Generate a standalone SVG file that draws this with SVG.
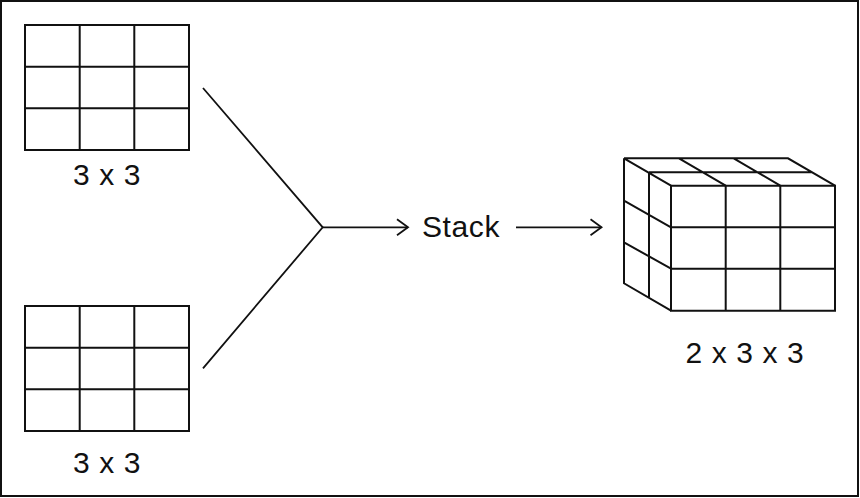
<svg xmlns="http://www.w3.org/2000/svg" width="860" height="498" viewBox="0 0 860 498">
<style>
.g{fill:none;stroke:#111;stroke-width:2;stroke-linejoin:miter}
.c{fill:none;stroke:#111;stroke-width:1.8}
.t{font-family:"Liberation Sans",Arial,sans-serif;font-size:30px;fill:#111;letter-spacing:0.6px}
</style>
<defs>
<marker id="ah" markerWidth="14" markerHeight="20" refX="12" refY="10" orient="auto" markerUnits="userSpaceOnUse">
<path d="M1,2 L12,10 L1,18" fill="none" stroke="#111" stroke-width="1.8"/>
</marker>
</defs>
<rect x="1" y="1" width="857" height="495" fill="#fff" stroke="#111" stroke-width="2"/>
<g id="matrix-top">
<rect class="g" x="25" y="25" width="164" height="125"/>
<path class="g" d="M79.7,25V150M134.3,25V150M25,66.7H189M25,108.3H189"/>
<text class="t" x="107" y="185" text-anchor="middle">3 x 3</text>
</g>
<g id="matrix-bottom">
<rect class="g" x="25" y="306" width="164" height="125"/>
<path class="g" d="M79.7,306V431M134.3,306V431M25,347.7H189M25,389.3H189"/>
<text class="t" x="107" y="473" text-anchor="middle">3 x 3</text>
</g>
<g id="stack-label">
<text class="t" x="422" y="237">Stack</text>
</g>
<g id="tensor">
<path class="g" d="M671,185.7H835V310.7H671Z M725.7,185.7V310.7M780.3,185.7V310.7M671,227.3H835M671,268.7H835"/>
<path class="g" d="M624,158.3H788L835,185.7 M624,158.3L671,185.7M679,158.3L725.7,185.7M733.7,158.3L780.3,185.7 M649,172.3H811.5"/>
<path class="g" d="M624,158.3V283.3L671,310.7 M649,172.3V297 M624,200.7L671,227.3M624,242.3L671,268.7"/>
<text class="t" x="745" y="363" text-anchor="middle">2 x 3 x 3</text>
</g>
<g id="connectors">
<path class="c" d="M203,88L322.7,227.3L203,368.3"/>
<path class="c" d="M322.7,227.3H408" marker-end="url(#ah)"/>
<path class="c" d="M516,227.3H601.5" marker-end="url(#ah)"/>
</g>
</svg>
